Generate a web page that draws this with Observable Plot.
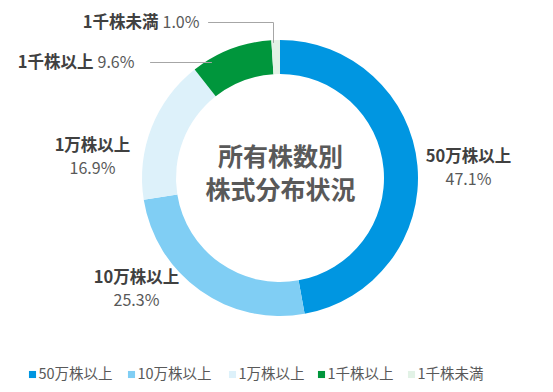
<!DOCTYPE html>
<html><head><meta charset="utf-8">
<script src="https://cdn.jsdelivr.net/npm/d3@7"></script>
<script src="https://cdn.jsdelivr.net/npm/@observablehq/plot@0.6"></script>
<style>
body{margin:0;background:#fff}
#chart svg{font-family:"Noto Sans CJK JP","Noto Sans",sans-serif}
</style></head>
<body><div id="chart"></div>
<script>
// ---- data ----
const categories = ["50万株以上", "10万株以上", "1万株以上", "1千株以上", "1千株未満"];
const shares = [47.1, 25.3, 16.9, 9.6, 1.0];
const colors = ["#0096E1", "#80CEF4", "#DDF1FA", "#00963C", "#E2F2E6"];
const centerTitle = ["所有株数別", "株式分布状況"];

const data = categories.map((c, i) => ({cat: c, share: shares[i]}));

// ---- layout (pixel frame) ----
const W = 553, H = 392;
const C = {x: 280, y: 178, r0: 104, r1: 138};

// two-line labels (name above, percent below)
const twoLine = [
  {cat: "50万株以上", x: 468, y: 156},
  {cat: "10万株以上", x: 136, y: 277},
  {cat: "1万株以上",  x: 92,  y: 145}
];
// one-line labels with leader lines
const oneLine = [
  {cat: "1千株以上", x: 134, y: 62},
  {cat: "1千株未満", x: 199, y: 22}
];
const leaders = [
  {id: "a", pts: [[150, 62], [211, 62]]},
  {id: "b", pts: [[208, 22], [273, 22], [273, 42]]}
];
const legendX = [32, 131, 232, 321, 411];
const legendY = 374;

const shareOf = c => shares[categories.indexOf(c)];
const pct = v => v.toFixed(1) + "%";

function donut(index, scales) {
  const cx = scales.x(C.x), cy = scales.y(C.y);
  const arcs = d3.pie().sort(null).value(d => d.share)(data);
  const arc = d3.arc().innerRadius(C.r0).outerRadius(C.r1);
  const g = d3.create("svg:g").attr("transform", `translate(${cx},${cy})`);
  g.selectAll("path").data(arcs).join("path")
    .attr("d", arc)
    .attr("fill", d => scales.color(d.data.cat));
  return g.node();
}

const leaderPts = leaders.flatMap(l => l.pts.map(p => ({id: l.id, x: p[0], y: p[1]})));
const legendData = categories.map((c, i) => ({cat: c, x: legendX[i], y: legendY}));

const chart = Plot.plot({
  width: W, height: H,
  margin: 0,
  x: {domain: [0, W], range: [0, W], axis: null},
  y: {domain: [0, H], range: [0, H], axis: null},
  color: {domain: categories, range: colors},
  style: {background: "#fff"},
  marks: [
    donut,
    Plot.line(leaderPts, {x: "x", y: "y", z: "id", stroke: "#A6A6A6", strokeWidth: 1}),
    // center title
    Plot.text(centerTitle, {x: () => C.x, y: (d, i) => 157 + i * 33, text: d => d,
      fontSize: 25, fontWeight: "bold", fill: "#595959", letterSpacing: 2.5}),
    // two-line labels
    Plot.text(twoLine, {x: "x", y: "y", text: "cat", fontSize: 16.5, fontWeight: "bold", fill: "#404040"}),
    Plot.text(twoLine, {x: "x", y: d => d.y + 23, text: d => pct(shareOf(d.cat)), fontSize: 16, fill: "#595959"}),
    // one-line labels
    Plot.text(oneLine, {x: d => d.x - 41, y: "y", text: "cat", textAnchor: "end", fontSize: 16.5, fontWeight: "bold", fill: "#404040"}),
    Plot.text(oneLine, {x: "x", y: "y", text: d => pct(shareOf(d.cat)), textAnchor: "end", fontSize: 16, fill: "#595959"}),
    // legend
    Plot.dot(legendData, {x: "x", y: "y", symbol: "square", r: 4, fill: "cat"}),
    Plot.text(legendData, {x: d => d.x + 6, y: "y", text: "cat", textAnchor: "start", fontSize: 14.5, fill: "#595959"})
  ]
});
document.getElementById("chart").append(chart);
</script>
</body></html>
